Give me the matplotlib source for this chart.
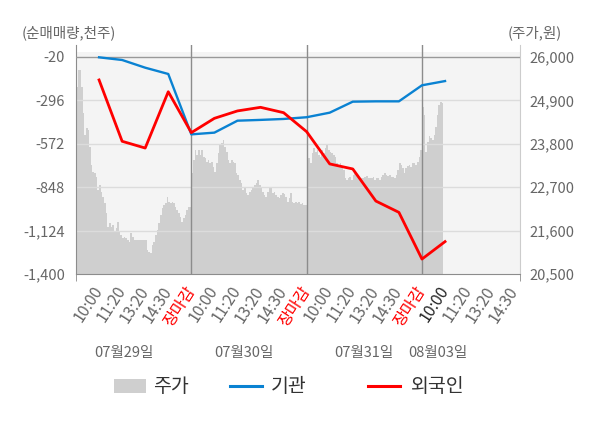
import matplotlib
matplotlib.use("Agg")
import matplotlib.pyplot as plt
from matplotlib.patches import Rectangle
from matplotlib.lines import Line2D
import matplotlib.transforms as mtransforms
import numpy as np

plt.rcParams['font.family'] = ['Noto Sans CJK KR', 'DejaVu Sans']

# ---- data ----
tick_labels = ["10:00", "11:20", "13:20", "14:30", "장마감",
               "10:00", "11:20", "13:20", "14:30", "장마감",
               "10:00", "11:20", "13:20", "14:30", "장마감",
               "10:00", "11:20", "13:20", "14:30"]
dates = ["07월29일", "07월30일", "07월31일", "08월03일"]

inst = [-22, -39, -88, -128, -512, -501, -425, -420, -414, -403,
        -374, -304, -302, -302, -200, -173]          # 기관
foreign = [-166, -556, -599, -241, -501, -410, -363, -340, -374, -495,
           -700, -732, -936, -1008, -1305, -1194]    # 외국인

price_day1 = [25248, 25670, 25680, 25248, 24570, 24023, 24190, 24149, 23720, 23262,
              23093, 23051, 22966, 22631, 22755, 22586, 22459, 22290, 22037, 21699,
              21784, 21699, 21741, 21572, 21657, 21826, 21572, 21488, 21403, 21446,
              21403, 21361, 21319, 21530, 21446, 21361, 21361, 21361, 21361, 21361,
              21361, 21361, 21361, 21108, 21065, 21040, 21234, 21319, 21488, 21615,
              21784, 21995, 22164, 22248, 22290, 22459, 22333, 22290, 22333, 22290,
              22206, 22121, 22037, 21953, 21826, 21910, 21995, 22121, 22206]
price_day2 = [23051, 23389, 23642, 23516, 23642, 23516, 23642, 23473, 23431, 23347,
              23389, 23304, 23347, 23220, 23093, 23304, 23558, 23769, 23828, 23896,
              23727, 23600, 23389, 23304, 23389, 23347, 23304, 23051, 23009, 22882,
              22797, 22628, 22671, 22544, 22502, 22586, 22628, 22713, 22755, 22814,
              22882, 22755, 22713, 22586, 22502, 22459, 22586, 22713, 22671, 22544,
              22586, 22502, 22459, 22417, 22502, 22561, 22527, 22459, 22333, 22417,
              22544, 22333, 22290, 22333, 22290, 22333, 22273, 22290, 22248]
price_day3 = [23558, 23431, 23304, 23558, 23685, 23600, 23642, 23516, 23473, 23642,
              23558, 23685, 23769, 23642, 23600, 23558, 23516, 23473, 23304, 23262,
              23304, 23220, 23135, 22924, 22882, 22924, 22966, 22882, 23009, 23093,
              23009, 22924, 22882, 22924, 22924, 22966, 22983, 22924, 22924, 22924,
              22966, 22882, 22924, 22924, 22882, 22966, 23009, 23051, 23009, 22983,
              23009, 22966, 22950, 22924, 23009, 23135, 23304, 23262, 23178, 23051,
              23178, 23237, 23262, 23220, 23304, 23321, 23262, 23347, 23473, 23642]
price_day4 = [24741, 24530, 23600, 23854, 23997, 23938, 23896, 24023, 24234, 24530,
              24783, 24868, 24842, 24720]
price_days = [price_day1, price_day2, price_day3, price_day4]

left_ticks = [-20, -296, -572, -848, -1124, -1400]
right_ticks = [20500, 21600, 22700, 23800, 24900, 26000]

# ---- figure ----
W, H = 600, 428
fig = plt.figure(figsize=(W / 100, H / 100), dpi=100)
ax = fig.add_axes([76 / W, 1 - 274 / H, 444 / W, 229 / H])
ax2 = ax.twinx()
ax.set_zorder(ax2.get_zorder() + 1)
ax.patch.set_visible(False)

unit_per_day = 5
samples_per_day = 70
step = unit_per_day / samples_per_day
xlim = (0, 19.25)

# price area
px, py = [], []
for d, vals in enumerate(price_days):
    for i, v in enumerate(vals):
        px.append(d * unit_per_day + i * step)
        py.append(v)
ax2.fill_between(px, right_ticks[0], py, step='post', color='#cfcfcf', lw=0, zorder=1)
ax2.axhspan(right_ticks[0], right_ticks[-1] + 5 * 25.35, color='#f4f4f4', zorder=0, lw=0)
ax2.set_ylim(right_ticks[0], right_ticks[-1] + 12 * 25.346)

# lines
lx = np.arange(1, len(inst) + 1)
ax.plot(lx, inst, color='#0a82d2', lw=1.7, zorder=5)
ax.plot(lx, foreign, color='#ff0000', lw=2.0, zorder=6)

ax.set_xlim(*xlim)
ax.set_ylim(left_ticks[-1], left_ticks[0] + 12 * 6.359)

# grid
for t in left_ticks[1:-1]:
    ax.axhline(t, color='#dcdcdc', lw=1, zorder=2)
ax.axhline(left_ticks[0], color='#999999', lw=1, zorder=3)
for b in [5, 10, 15]:
    ax.axvline(b, color='#8c8c8c', lw=1, zorder=3)

# spines
ax.spines['top'].set_visible(False)
ax2.spines['top'].set_visible(False)
ax.spines['left'].set_color('#8c8c8c')
ax.spines['bottom'].set_color('#8c8c8c')
ax.spines['right'].set_visible(False)
ax2.spines['left'].set_visible(False)
ax2.spines['bottom'].set_visible(False)
ax2.spines['right'].set_color('#cccccc')

# y ticks
ax.set_yticks(left_ticks)
ax.set_yticklabels([f"{t:,}" for t in left_ticks])
ax.tick_params(axis='y', length=0, pad=8, labelsize=10.5, labelcolor='#666666')
ax2.set_yticks(right_ticks)
ax2.set_yticklabels([f"{t:,}" for t in right_ticks])
ax2.tick_params(axis='y', length=0, pad=7, labelsize=10.5, labelcolor='#666666')

# x ticks
ax.set_xticks(np.arange(1, len(tick_labels) + 1))
ax.set_xticklabels(tick_labels)
ax.set_xticks([0, 5, 10, 15, xlim[1]], minor=True)
ax.tick_params(axis='x', which='major', length=0, pad=10, labelsize=11.5)
ax.tick_params(axis='x', which='minor', length=5, color='#8c8c8c')
for i, lab in enumerate(ax.get_xticklabels()):
    lab.set_rotation(57)
    lab.set_ha('right')
    lab.set_va('center')
    lab.set_rotation_mode('anchor')
    txt = tick_labels[i]
    if txt == "장마감":
        lab.set_color('#ff0000')
    elif i == 15:
        lab.set_color('#222222')
    else:
        lab.set_color('#666666')

# date labels
date_pos = [2.1, 7.3, 12.5, 15.7]
dtrans = mtransforms.blended_transform_factory(ax.transData, fig.transFigure)
for xp, dl in zip(date_pos, dates):
    ax.text(xp, 1 - 353 / H, dl, transform=dtrans, ha='center', va='center',
            fontsize=10.5, color='#666666')

# axis titles
fig.text(22 / W, 1 - 33 / H, "(순매매량,천주)", fontsize=10.5, color='#666666',
         ha='left', va='center')
fig.text(562 / W, 1 - 33 / H, "(주가,원)", fontsize=10.5, color='#666666',
         ha='right', va='center')

# legend (manual)
ly = 1 - 386 / H
fig.add_artist(Rectangle((114 / W, 1 - 393 / H), 32 / W, 14 / H, color='#cfcfcf',
                         transform=fig.transFigure, lw=0))
fig.text(153 / W, ly, "주가", fontsize=14, color='#333333', ha='left', va='center')
fig.add_artist(Line2D([230 / W, 262 / W], [ly, ly], color='#0a82d2', lw=2.2,
                      transform=fig.transFigure))
fig.text(271 / W, ly, "기관", fontsize=14, color='#333333', ha='left', va='center')
fig.add_artist(Line2D([368 / W, 400 / W], [ly, ly], color='#ff0000', lw=2.2,
                      transform=fig.transFigure))
fig.text(411 / W, ly, "외국인", fontsize=14, color='#333333', ha='left', va='center')

fig.savefig("out.png", dpi=100)
